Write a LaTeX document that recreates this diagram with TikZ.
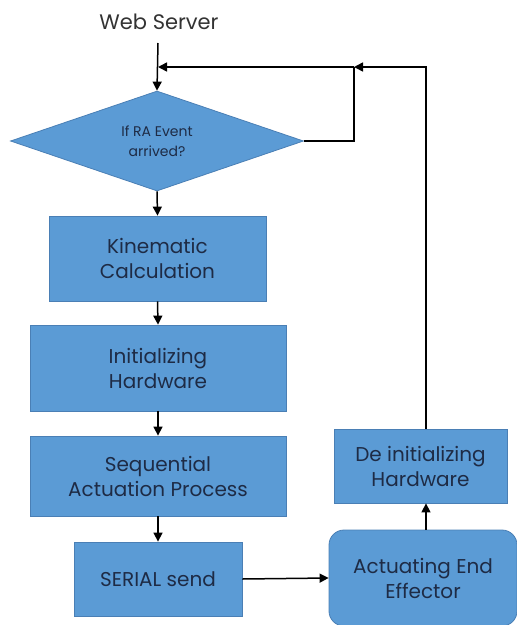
\documentclass[tikz,border=0pt]{standalone}
\usepackage{fontspec}
\setmainfont{Poppins}
\usetikzlibrary{shapes.geometric,arrows.meta}
\definecolor{boxfill}{HTML}{5B9BD5}
\definecolor{boxline}{HTML}{4A7FB5}
\definecolor{boxtext}{HTML}{1E2B45}
\begin{document}
\begin{tikzpicture}[x=1pt,y=-1pt,
  flow/.style={line width=1.5pt,-{Triangle[length=9pt,width=9pt]}},
  plain/.style={line width=1.5pt},
  procbox/.style={draw=boxline,fill=boxfill,line width=0.8pt,text=boxtext,
    align=center,font=\fontsize{20}{25}\selectfont,inner sep=0pt},
  decision/.style={draw=boxline,fill=boxfill,line width=0.8pt,text=boxtext,
    diamond,aspect=2.93,inner sep=0pt,align=center,font=\fontsize{14}{20}\selectfont}]
\useasboundingbox (0,0) rectangle (517,625);

\node[text=black!80,font=\fontsize{21}{25}\selectfont] (web) at (159,22) {Web Server};
\node[decision,minimum width=293pt,minimum height=100pt] (dec) at (157,141) {If RA Event\\arrived?};
\node[procbox,minimum width=217pt,minimum height=85pt] (kin) at (157.5,258.5) {Kinematic\\Calculation};
\node[procbox,minimum width=256pt,minimum height=86pt] (init) at (158,368) {Initializing\\Hardware};
\node[procbox,minimum width=256pt,minimum height=80pt] (seq) at (158,476) {Sequential\\Actuation Process};
\node[procbox,minimum width=168pt,minimum height=74pt] (ser) at (158,579) {SERIAL send};
\node[procbox,rounded corners=15pt,minimum width=188pt,minimum height=96pt] (act) at (423,578) {Actuating End\\Effector};
\node[procbox,minimum width=173pt,minimum height=74pt] (deinit) at (420.5,466) {De initializing\\Hardware};

\coordinate (wtop) at (158,43);
\coordinate (join) at (158,67);
\coordinate (loopx) at (354,67);
\coordinate (rx) at (426,67);

% entry from the web server
\draw[flow] (wtop) -- (dec.north);
% waiting loop on the decision
\draw[plain] (dec.east) -| (loopx);
\draw[flow] (loopx) -- (join);
% main sequence
\draw[flow] (dec.south) -- (kin.north);
\draw[flow] (kin.south) -- (init.north);
\draw[flow] (init.south) -- (seq.north);
\draw[flow] (seq.south) -- (ser.north);
\draw[flow] (ser.east) -- (act.west);
\draw[flow] (act.north -| rx) -- (deinit.south -| rx);
% return path to the top
\draw[flow] (deinit.north -| rx) -- (rx) -- (loopx);
\end{tikzpicture}
\end{document}
